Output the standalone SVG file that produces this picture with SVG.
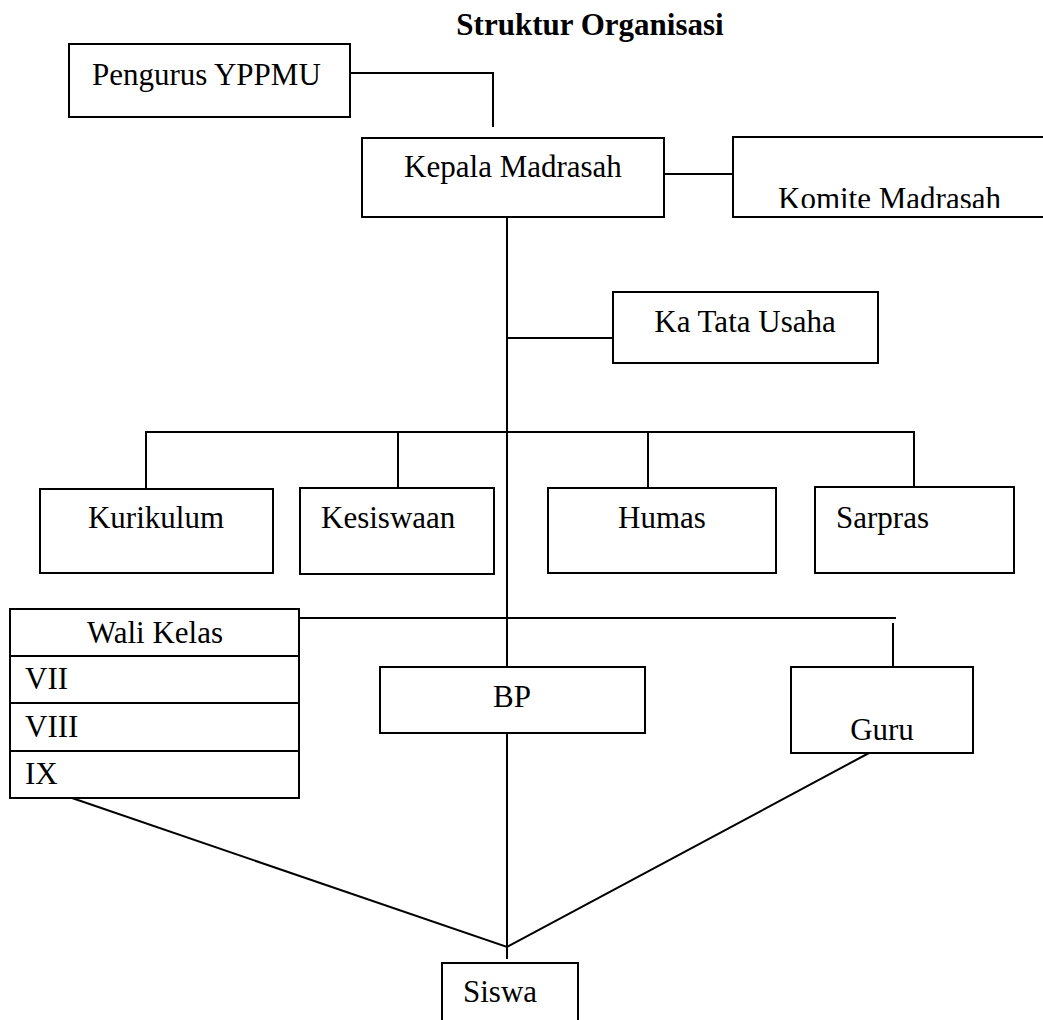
<svg xmlns="http://www.w3.org/2000/svg" width="1043" height="1020" viewBox="0 0 1043 1020">
<style>
.box{fill:#fff;stroke:#000;stroke-width:2}
.ln{fill:none;stroke:#000;stroke-width:2}
text{font-family:"Liberation Serif","Times New Roman",serif;font-size:31px;fill:#000}
.t{font-weight:bold}
.c{text-anchor:middle}
</style>
<defs>
<clipPath id="kclip"><rect x="733" y="137" width="310" height="71"/></clipPath>
</defs>
<rect width="1043" height="1020" fill="#fff"/>
<text class="t c" x="590" y="35">Struktur Organisasi</text>
<g id="connectors">
<polyline class="ln" points="350,73 493,73 493,127"/>
<line class="ln" x1="664" y1="174" x2="733" y2="174"/>
<line class="ln" x1="507" y1="217" x2="507" y2="667"/>
<line class="ln" x1="507" y1="338" x2="613" y2="338"/>
<line class="ln" x1="146" y1="432" x2="914" y2="432"/>
<line class="ln" x1="146" y1="431" x2="146" y2="489"/>
<line class="ln" x1="398" y1="432" x2="398" y2="488"/>
<line class="ln" x1="648" y1="432" x2="648" y2="488"/>
<line class="ln" x1="914" y1="431" x2="914" y2="487"/>
<line class="ln" x1="297" y1="618" x2="896" y2="618"/>
<line class="ln" x1="893" y1="623" x2="893" y2="667"/>
<line class="ln" x1="507" y1="733" x2="507" y2="959"/>
<polyline class="ln" points="72,798 507,947 869,753"/>
</g>
<g id="pengurus"><rect class="box" x="69" y="44" width="281" height="73"/><text x="92" y="85">Pengurus YPPMU</text></g>
<g id="kepala"><rect class="box" x="362" y="138" width="302" height="79"/><text class="c" x="513" y="177">Kepala Madrasah</text></g>
<g id="komite"><rect class="box" x="733" y="137" width="320" height="80"/><text x="778" y="209" clip-path="url(#kclip)">Komite Madrasah</text></g>
<g id="tatausaha"><rect class="box" x="613" y="292" width="265" height="71"/><text class="c" x="745" y="332">Ka Tata Usaha</text></g>
<g id="kurikulum"><rect class="box" x="40" y="489" width="233" height="84"/><text class="c" x="156" y="528">Kurikulum</text></g>
<g id="kesiswaan"><rect class="box" x="300" y="488" width="194" height="86"/><text x="321" y="528">Kesiswaan</text></g>
<g id="humas"><rect class="box" x="548" y="488" width="228" height="85"/><text class="c" x="662" y="528">Humas</text></g>
<g id="sarpras"><rect class="box" x="815" y="487" width="199" height="86"/><text x="836" y="528">Sarpras</text></g>
<g id="walikelas">
<rect class="box" x="10" y="609" width="289" height="189"/>
<line class="ln" x1="10" y1="656" x2="299" y2="656"/>
<line class="ln" x1="10" y1="703" x2="299" y2="703"/>
<line class="ln" x1="10" y1="751" x2="299" y2="751"/>
<text class="c" x="155" y="643">Wali Kelas</text>
<text x="25" y="689">VII</text>
<text x="25" y="737">VIII</text>
<text x="25" y="784">IX</text>
</g>
<g id="bp"><rect class="box" x="380" y="667" width="265" height="66"/><text class="c" x="512" y="707">BP</text></g>
<g id="guru"><rect class="box" x="791" y="667" width="182" height="86"/><text class="c" x="882" y="740">Guru</text></g>
<g id="siswa"><rect class="box" x="442" y="963" width="136" height="70"/><text x="463" y="1002">Siswa</text></g>
</svg>
